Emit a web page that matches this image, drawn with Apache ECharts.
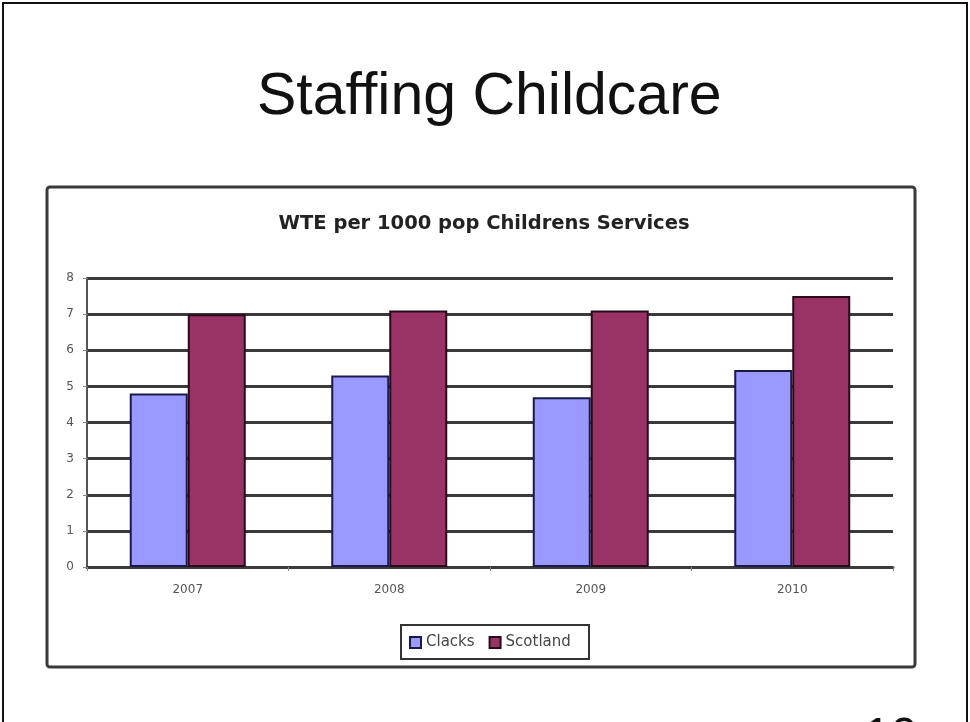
<!DOCTYPE html>
<html>
<head>
<meta charset="utf-8">
<script src="https://cdn.jsdelivr.net/npm/echarts@6/dist/echarts.min.js"></script>
<style>
html,body{margin:0;padding:0;background:#fff;}
#c{width:970px;height:722px;}
</style>
</head>
<body>
<div id="c"></div>
<script>
var categories = ['2007', '2008', '2009', '2010'];
var clacks = [4.8, 5.3, 4.7, 5.45];
var scotland = [7.0, 7.1, 7.1, 7.5];
var seriesNames = ['Clacks', 'Scotland'];
var pageTitle = 'Staffing Childcare';
var chartTitle = 'WTE per 1000 pop Childrens Services';
var pageNumber = '10';

var chart = echarts.init(document.getElementById('c'), null, {renderer: 'canvas'});
var font = '"Liberation Sans", Arial, sans-serif';
var wide = '"DejaVu Sans", sans-serif';
chart.setOption({
  backgroundColor: '#ffffff',
  animation: false,
  textStyle: {fontFamily: font},
  graphic: [
    {type: 'rect', shape: {x: 3, y: 3, width: 964, height: 740}, style: {fill: 'none', stroke: '#111', lineWidth: 2}, z: 0},
    {type: 'rect', shape: {x: 47, y: 187, width: 868, height: 480, r: 3}, style: {fill: '#fff', stroke: '#3a3a3a', lineWidth: 3}, z: 0},
    {type: 'rect', shape: {x: 401, y: 625, width: 188, height: 34}, style: {fill: '#fff', stroke: '#333', lineWidth: 2}, z: 1},
    {type: 'text', x: 257, y: 68, style: {text: pageTitle, font: '59px "Liberation Sans", Arial, sans-serif', fill: '#111'}, z: 10},
    {type: 'text', x: 864, y: 714, style: {text: pageNumber, font: '48px "Liberation Sans", Arial, sans-serif', fill: '#111'}, z: 10}
  ],
  title: {
    text: chartTitle,
    left: 479, textAlign: 'center', top: 209,
    textStyle: {fontSize: 19.5, fontWeight: 'bold', color: '#222', fontFamily: wide}
  },
  legend: {
    data: seriesNames,
    left: 409, top: 635,
    padding: 0,
    itemWidth: 11, itemHeight: 11, itemGap: 14,
    icon: 'rect',
    textStyle: {fontSize: 15, color: '#444', fontFamily: wide},
    z: 5
  },
  grid: {
    left: 87, top: 278, right: 77, bottom: 155,
    show: true, backgroundColor: '#c0c0c0', borderWidth: 0
  },
  xAxis: {
    type: 'category',
    data: categories,
    axisLine: {lineStyle: {color: '#3a3a3a', width: 3}},
    axisTick: {show: true, length: 4, lineStyle: {color: '#888'}},
    axisLabel: {fontSize: 12, color: '#555', margin: 17, fontFamily: wide}
  },
  yAxis: {
    type: 'value',
    min: 0, max: 8, interval: 1,
    axisLine: {show: true, lineStyle: {color: '#555', width: 2}},
    axisTick: {show: true, length: 4, lineStyle: {color: '#888'}},
    axisLabel: {fontSize: 12, color: '#555', margin: 13, fontFamily: wide},
    splitLine: {lineStyle: {color: '#3a3a3a', width: 3}}
  },
  series: [
    {name: seriesNames[0], type: 'bar', data: clacks, barWidth: 58, barGap: '0%',
     itemStyle: {color: '#9999ff', borderColor: '#1a1a4a', borderWidth: 2}},
    {name: seriesNames[1], type: 'bar', data: scotland, barWidth: 58,
     itemStyle: {color: '#993366', borderColor: '#2a0a1a', borderWidth: 2}}
  ]
});
</script>
</body>
</html>
